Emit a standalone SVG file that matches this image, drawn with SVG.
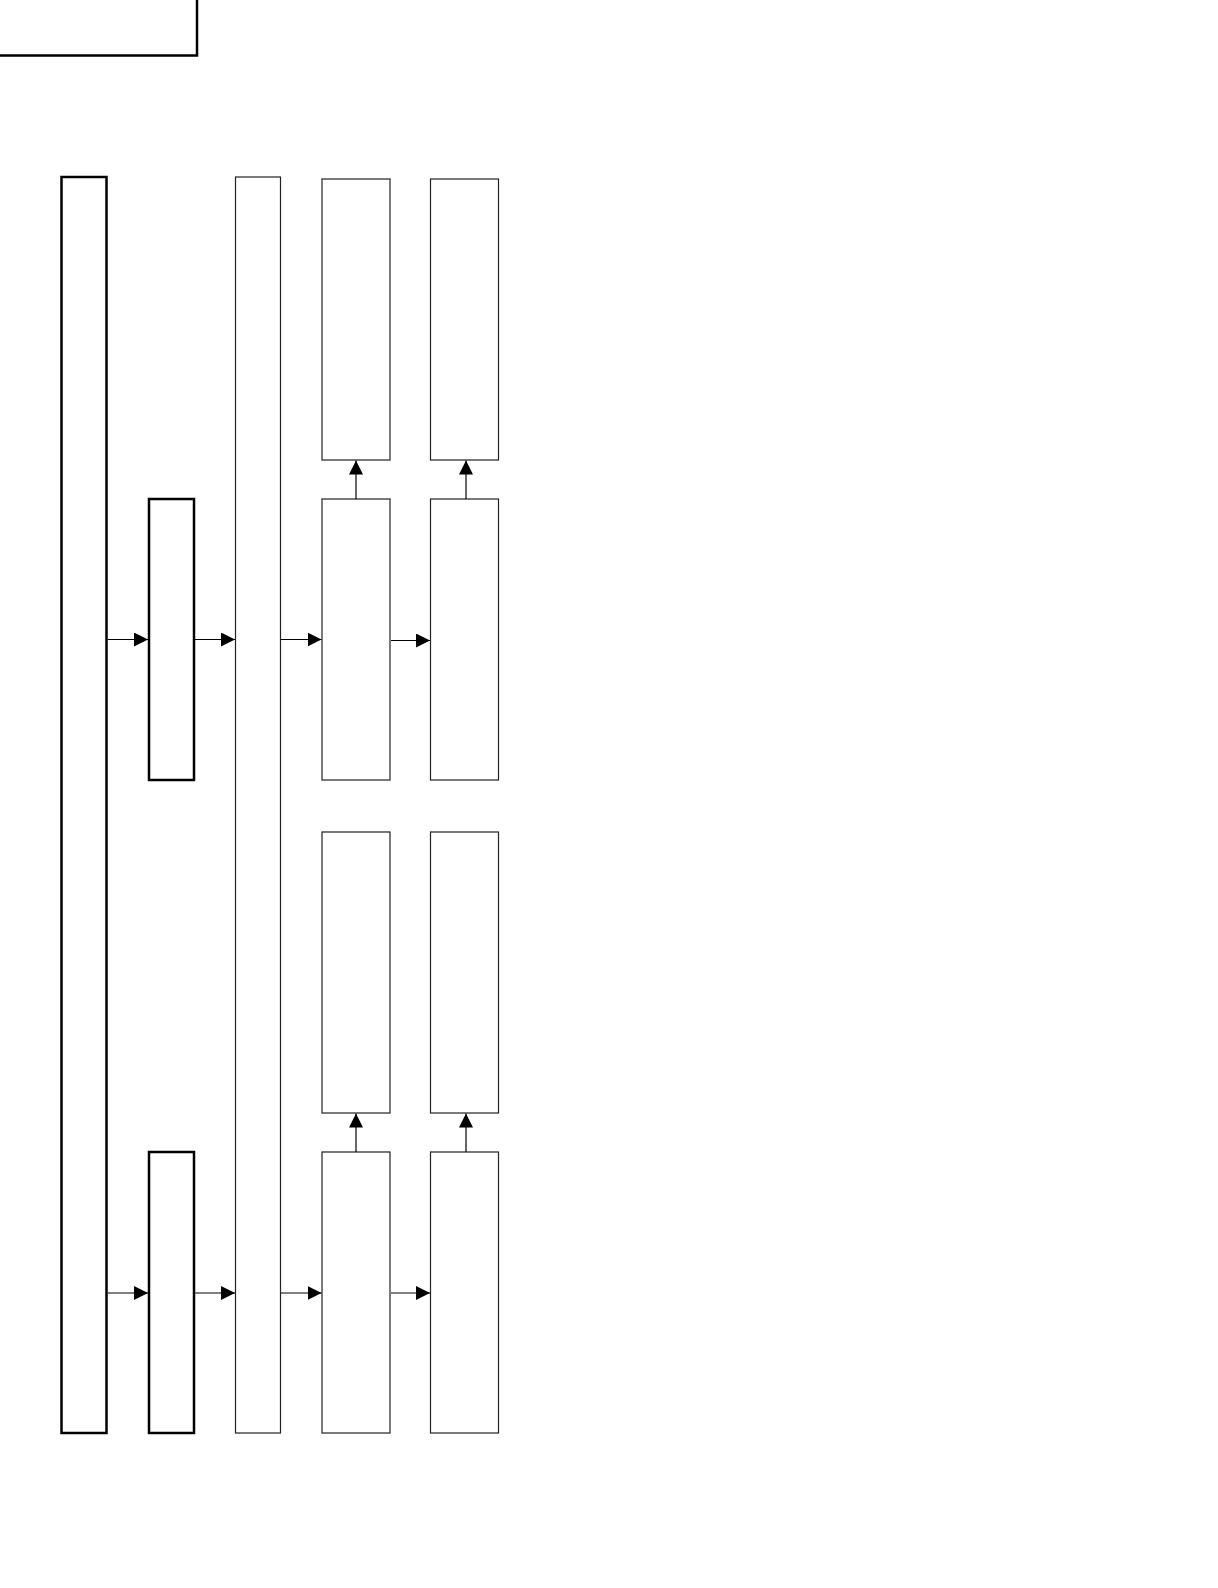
<svg xmlns="http://www.w3.org/2000/svg" width="1218" height="1588" viewBox="0 0 1218 1588">
<style>
.thick{fill:#fff;stroke:#000;stroke-width:2.5}
.thin{fill:#fff;stroke:#222;stroke-width:1.2}
.conn{stroke:#000;stroke-width:1.2;fill:none}
</style>
<defs>
<marker id="ah" viewBox="0 0 14 14" refX="14" refY="7" markerWidth="14" markerHeight="14" markerUnits="userSpaceOnUse" orient="auto">
<path d="M0,0 L14,7 L0,14 Z" fill="#000"/>
</marker>
</defs>
<rect width="1218" height="1588" fill="#fff"/>
<g id="title-box"><rect class="thick" x="-3" y="-3" width="200" height="58.5"/></g>
<g id="node-a"><rect class="thick" x="61.5" y="177" width="45" height="1256"/></g>
<g id="node-b1"><rect class="thick" x="149" y="499" width="45" height="281"/></g>
<g id="node-b2"><rect class="thick" x="149" y="1152" width="45" height="281"/></g>
<g id="node-c"><rect class="thin" x="235.5" y="177" width="45" height="1256"/></g>
<g id="node-d1"><rect class="thin" x="322" y="179" width="68" height="281"/></g>
<g id="node-d2"><rect class="thin" x="322" y="499" width="68" height="281"/></g>
<g id="node-d3"><rect class="thin" x="322" y="832" width="68" height="281"/></g>
<g id="node-d4"><rect class="thin" x="322" y="1152" width="68" height="281"/></g>
<g id="node-e1"><rect class="thin" x="430.5" y="179" width="68" height="281"/></g>
<g id="node-e2"><rect class="thin" x="430.5" y="499" width="68" height="281"/></g>
<g id="node-e3"><rect class="thin" x="430.5" y="832" width="68" height="281"/></g>
<g id="node-e4"><rect class="thin" x="430.5" y="1152" width="68" height="281"/></g>
<g id="connectors">
<line class="conn" x1="107.5" y1="639.5" x2="148" y2="639.5" marker-end="url(#ah)"/>
<line class="conn" x1="195" y1="639.5" x2="235" y2="639.5" marker-end="url(#ah)"/>
<line class="conn" x1="281" y1="639.5" x2="321.5" y2="639.5" marker-end="url(#ah)"/>
<line class="conn" x1="391" y1="640.5" x2="430" y2="640.5" marker-end="url(#ah)"/>
<line class="conn" x1="356" y1="499" x2="356" y2="460.5" marker-end="url(#ah)"/>
<line class="conn" x1="466" y1="499" x2="466" y2="460.5" marker-end="url(#ah)"/>
<line class="conn" x1="107.5" y1="1293" x2="148" y2="1293" marker-end="url(#ah)"/>
<line class="conn" x1="195" y1="1293" x2="235" y2="1293" marker-end="url(#ah)"/>
<line class="conn" x1="281" y1="1293" x2="321.5" y2="1293" marker-end="url(#ah)"/>
<line class="conn" x1="391" y1="1293" x2="430" y2="1293" marker-end="url(#ah)"/>
<line class="conn" x1="356" y1="1152" x2="356" y2="1113.5" marker-end="url(#ah)"/>
<line class="conn" x1="466" y1="1152" x2="466" y2="1113.5" marker-end="url(#ah)"/>
</g>
</svg>
